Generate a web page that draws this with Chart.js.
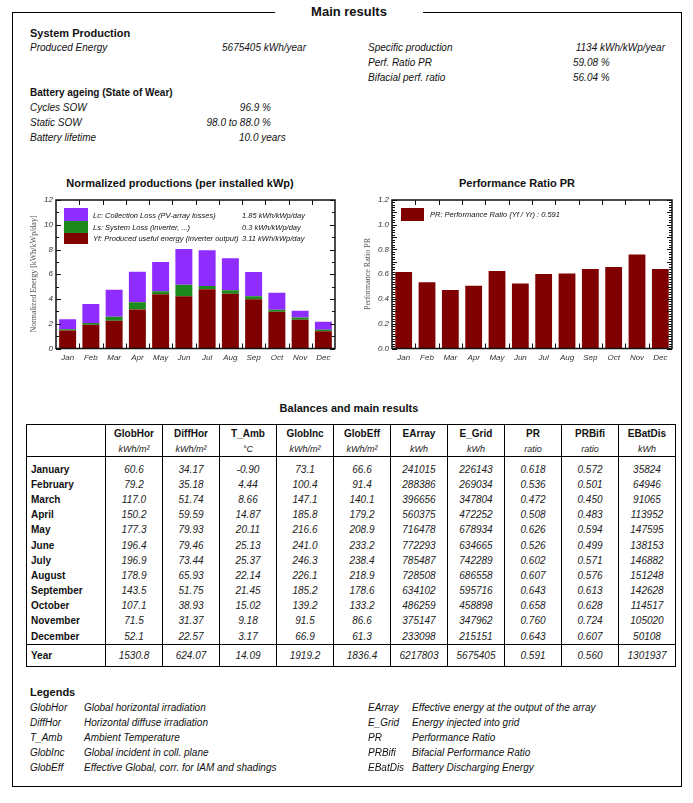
<!DOCTYPE html>
<html>
<head>
<meta charset="utf-8">
<script src="https://cdn.jsdelivr.net/npm/chart.js@4.4.0/dist/chart.umd.min.js"></script>
<style>
  body { margin: 0; background: #fff; font-family: "Liberation Sans", Arial, sans-serif; color: #111; }
  #page { position: relative; width: 693px; height: 803px; overflow: hidden; }
  .frame { position: absolute; left: 12px; top: 12px; width: 670px; height: 775px; border: 1px solid #000; box-sizing: border-box; }
  .t { position: absolute; white-space: nowrap; line-height: 12px; font-size: 10px; font-style: italic; }
  .b { font-style: normal; font-weight: bold; }
  .cap { font-size: 11px; }
  .small { font-size: 7.5px; line-height: 9px; }
  .ytitle { position: absolute; white-space: nowrap; font-family: "Liberation Serif", "DejaVu Serif", serif; font-size: 8px; color: #555; transform: translate(-50%, -50%) rotate(-90deg); }
  .sw { position: absolute; }
  canvas { position: absolute; }
  table { position: absolute; left: 26px; top: 424px; width: 649px; border-collapse: collapse; table-layout: fixed; border: 1px solid #000; }
  td { padding: 0; font-size: 10px; font-style: italic; text-align: center; color: #222; border-left: 1px solid #000; white-space: nowrap; line-height: 12px; }
  td.m { font-style: normal; font-weight: bold; text-align: left; padding-left: 4px; color: #111; border-left: none; }
  tr.hd td { font-style: normal; font-weight: bold; color: #111; height: 17px; vertical-align: middle; }
  tr.un td { font-size: 9px; height: 14px; border-bottom: 1px solid #000; }
  tr.sp td { height: 5px; line-height: 5px; }
  tr.dr td { height: 15.2px; }
  tr.yr td { height: 21px; border-top: 1px solid #000; }
</style>
</head>
<body>
<div id="page">
  <div class="frame"></div>
  <canvas id="prodChart" width="322" height="176" style="left:20px;top:190px"></canvas>
  <canvas id="prChart" width="330" height="176" style="left:350px;top:190px"></canvas>
</div>
<script>
// Chart data (per installed kWp, kWh/kWp/day)
const monthsShort = ["Jan", "Feb", "Mar", "Apr", "May", "Jun", "Jul", "Aug", "Sep", "Oct", "Nov", "Dec"];
const yfValues = [1.46, 1.92, 2.24, 3.15, 4.38, 4.23, 4.78, 4.43, 3.97, 2.96, 2.32, 1.39];
const lsValues = [0.10, 0.14, 0.32, 0.59, 0.24, 0.92, 0.28, 0.27, 0.26, 0.18, 0.18, 0.12];
const lcValues = [0.81, 1.53, 2.19, 2.46, 2.37, 2.89, 2.88, 2.60, 1.95, 1.36, 0.55, 0.66];
const prValues = [0.618, 0.536, 0.472, 0.508, 0.626, 0.526, 0.602, 0.607, 0.643, 0.658, 0.760, 0.643];

// Table data
const monthNames = ["January", "February", "March", "April", "May", "June", "July", "August", "September", "October", "November", "December", "Year"];
const globHor = [60.6, 79.2, 117.0, 150.2, 177.3, 196.4, 196.9, 178.9, 143.5, 107.1, 71.5, 52.1, 1530.8];
const diffHor = [34.17, 35.18, 51.74, 59.59, 79.93, 79.46, 73.44, 65.93, 51.75, 38.93, 31.37, 22.57, 624.07];
const tAmb = [-0.90, 4.44, 8.66, 14.87, 20.11, 25.13, 25.37, 22.14, 21.45, 15.02, 9.18, 3.17, 14.09];
const globInc = [73.1, 100.4, 147.1, 185.8, 216.6, 241.0, 246.3, 226.1, 185.2, 139.2, 91.5, 66.9, 1919.2];
const globEff = [66.6, 91.4, 140.1, 179.2, 208.9, 233.2, 238.4, 218.9, 178.6, 133.2, 86.6, 61.3, 1836.4];
const eArray = [241015, 288386, 396656, 560375, 716478, 772293, 785487, 728508, 634102, 486259, 375147, 233098, 6217803];
const eGrid = [226143, 269034, 347804, 472252, 678934, 634665, 742289, 686558, 595716, 458898, 347962, 215151, 5675405];
const prRatio = [0.618, 0.536, 0.472, 0.508, 0.626, 0.526, 0.602, 0.607, 0.643, 0.658, 0.760, 0.643, 0.591];
const prBifi = [0.572, 0.501, 0.450, 0.483, 0.594, 0.499, 0.571, 0.576, 0.613, 0.628, 0.724, 0.607, 0.560];
const eBatDis = [35824, 64946, 91065, 113952, 147595, 138153, 146882, 151248, 142628, 114517, 105020, 50108, 1301937];

const columns = [
  { name: "GlobHor", unit: "kWh/m²", data: globHor, dec: 1 },
  { name: "DiffHor", unit: "kWh/m²", data: diffHor, dec: 2 },
  { name: "T_Amb", unit: "°C", data: tAmb, dec: 2 },
  { name: "GlobInc", unit: "kWh/m²", data: globInc, dec: 1 },
  { name: "GlobEff", unit: "kWh/m²", data: globEff, dec: 1 },
  { name: "EArray", unit: "kWh", data: eArray, dec: 0 },
  { name: "E_Grid", unit: "kWh", data: eGrid, dec: 0 },
  { name: "PR", unit: "ratio", data: prRatio, dec: 3 },
  { name: "PRBifi", unit: "ratio", data: prBifi, dec: 3 },
  { name: "EBatDis", unit: "kWh", data: eBatDis, dec: 0 },
];

const page = document.getElementById("page");

// place a text label; y is the vertical centre
function place(text, x, y, cls, align) {
  const d = document.createElement("div");
  d.className = "t " + (cls || "");
  d.textContent = text;
  d.style.left = x + "px";
  d.style.top = y + "px";
  let tx = "0";
  if (align === "right") tx = "-100%";
  if (align === "center") tx = "-50%";
  d.style.transform = "translate(" + tx + ", -50%)";
  page.appendChild(d);
  return d;
}

function swatch(x, y, w, h, color) {
  const d = document.createElement("div");
  d.className = "sw";
  d.style.cssText = `left:${x}px;top:${y}px;width:${w}px;height:${h}px;background:${color}`;
  page.appendChild(d);
}

// Header block
const mt = place("Main results", 349, 12, "b", "center");
mt.style.fontSize = "13px";
mt.style.background = "#fff";
mt.style.padding = "0 36px";

place("System Production", 30, 33, "b cap");
place("Produced Energy", 30, 48);
place("5675405 kWh/year", 306, 48, "", "right");
place("Specific production", 368, 48);
place("1134 kWh/kWp/year", 665, 48, "", "right");
place("Perf. Ratio PR", 368, 63);
place("59.08 %", 573, 63);
place("Bifacial perf. ratio", 368, 78);
place("56.04 %", 573, 78);

place("Battery ageing (State of Wear)", 30, 93, "b");
place("Cycles SOW", 30, 108);
place("96.9 %", 271, 108, "", "right");
place("Static SOW", 30, 123);
place("98.0 to 88.0 %", 271, 123, "", "right");
place("Battery lifetime", 30, 138);
place("10.0 years", 239, 138);

// Chart titles and axis titles
place("Normalized productions (per installed kWp)", 180, 183, "b cap", "center");
place("Performance Ratio PR", 517, 183, "b cap", "center");

function yTitle(text, x, y) {
  const d = document.createElement("div");
  d.className = "ytitle";
  d.textContent = text;
  d.style.left = x + "px";
  d.style.top = y + "px";
  page.appendChild(d);
}
yTitle("Normalized Energy [kWh/kWp/day]", 33, 274);
yTitle("Performance Ratio PR", 367, 274);

// In-chart legends
const purple = "#8f2cff", green = "#1d8a1d", darkRed = "#800000";
swatch(64, 208, 24, 13, purple);
swatch(64, 221, 24, 11.5, green);
swatch(64, 232.5, 24, 11.5, darkRed);
place("Lc: Collection Loss (PV-array losses)", 93, 215, "small");
place("Ls: System Loss  (inverter, ...)", 93, 226.7, "small");
place("Yf: Produced useful energy  (inverter output)", 93, 238.3, "small");
place("1.85 kWh/kWp/day", 242, 215, "small");
place("0.3 kWh/kWp/day", 242, 226.7, "small");
place("3.11 kWh/kWp/day", 242, 238.3, "small");

swatch(401, 208, 23, 12.5, darkRed);
place("PR: Performance Ratio (Yf / Yr) :  0.591", 430, 214.3, "small");

// Frame with inward ticks, like the original report
const frameTicks = {
  id: "frameTicks",
  afterDatasetsDraw(chart, args, opts) {
    const { ctx, chartArea: a, scales: { x, y } } = chart;
    ctx.save();
    ctx.strokeStyle = "#111";
    ctx.lineWidth = 1;
    ctx.beginPath();
    const n = Math.round((y.max - y.min) / opts.minorStep);
    for (let k = 0; k <= n; k++) {
      const v = y.min + k * opts.minorStep;
      const py = Math.round(y.getPixelForValue(v)) + 0.5;
      const major = k % opts.majorEvery === 0;
      const len = major ? 5 : 3;
      ctx.moveTo(a.left, py); ctx.lineTo(a.left + len, py);
      ctx.moveTo(a.right, py); ctx.lineTo(a.right - len, py);
    }
    for (let i = 0; i < x.ticks.length - 1; i++) {
      const px = Math.round((x.getPixelForValue(i) + x.getPixelForValue(i + 1)) / 2) + 0.5;
      ctx.moveTo(px, a.bottom); ctx.lineTo(px, a.bottom - 5);
      ctx.moveTo(px, a.top); ctx.lineTo(px, a.top + 5);
    }
    ctx.stroke();
    ctx.lineWidth = 1.5;
    ctx.strokeRect(a.left, a.top, a.right - a.left, a.bottom - a.top);
    ctx.restore();
  },
};

const tickFont = { family: "'Liberation Sans', Arial, sans-serif", size: 8, style: "italic" };

function baseScales(yMin, yMax, yStep, yWidth, decimals, stacked) {
  return {
    x: {
      stacked: stacked,
      grid: { display: false, drawTicks: false },
      border: { display: false },
      ticks: { font: tickFont, color: "#333", padding: 4, maxRotation: 0, autoSkip: false },
      afterFit: (s) => { s.height = 17.5; },
    },
    y: {
      stacked: stacked,
      min: yMin,
      max: yMax,
      grid: { display: false, drawTicks: false },
      border: { display: false },
      ticks: {
        stepSize: yStep,
        font: tickFont,
        color: "#333",
        padding: 3,
        callback: (v) => Number(v).toFixed(decimals),
      },
      afterFit: (s) => { s.width = yWidth; },
    },
  };
}

new Chart(document.getElementById("prodChart"), {
  type: "bar",
  data: {
    labels: monthsShort,
    datasets: [
      { label: "Yf", data: yfValues, backgroundColor: darkRed },
      { label: "Ls", data: lsValues, backgroundColor: green },
      { label: "Lc", data: lcValues, backgroundColor: purple },
    ],
  },
  options: {
    responsive: false,
    animation: false,
    devicePixelRatio: 1,
    layout: { padding: { top: 10, right: 7, left: 0, bottom: 0 } },
    datasets: { bar: { categoryPercentage: 1, barPercentage: 0.73 } },
    plugins: {
      legend: { display: false },
      tooltip: { enabled: false },
      frameTicks: { minorStep: 1, majorEvery: 2 },
    },
    scales: baseScales(0, 12, 2, 36, 0, true),
  },
  plugins: [frameTicks],
});

new Chart(document.getElementById("prChart"), {
  type: "bar",
  data: {
    labels: monthsShort,
    datasets: [{ label: "PR", data: prValues, backgroundColor: darkRed }],
  },
  options: {
    responsive: false,
    animation: false,
    devicePixelRatio: 1,
    layout: { padding: { top: 10, right: 8, left: 0, bottom: 0 } },
    datasets: { bar: { categoryPercentage: 1, barPercentage: 0.72 } },
    plugins: {
      legend: { display: false },
      tooltip: { enabled: false },
      frameTicks: { minorStep: 0.02, majorEvery: 5 },
    },
    scales: baseScales(0, 1.2, 0.1, 42, 1, false),
  },
  plugins: [frameTicks],
});

// Balances table
place("Balances and main results", 349, 408, "b cap", "center");

const table = document.createElement("table");
const colgroup = document.createElement("colgroup");
[79].concat(columns.map(() => 57)).forEach((w) => {
  const c = document.createElement("col");
  c.style.width = w + "px";
  colgroup.appendChild(c);
});
table.appendChild(colgroup);

function addRow(cls, first, cells) {
  const tr = document.createElement("tr");
  tr.className = cls;
  const td0 = document.createElement("td");
  td0.className = "m";
  td0.textContent = first;
  tr.appendChild(td0);
  cells.forEach((txt) => {
    const td = document.createElement("td");
    td.textContent = txt;
    tr.appendChild(td);
  });
  table.appendChild(tr);
}

addRow("hd", "", columns.map((c) => c.name));
addRow("un", "", columns.map((c) => c.unit));
addRow("sp", "", columns.map(() => ""));
monthNames.forEach((m, i) => {
  addRow(i === 12 ? "yr" : "dr", m, columns.map((c) => c.data[i].toFixed(c.dec)));
});
page.appendChild(table);

// Legends
place("Legends", 30, 692, "b cap");
const legendLeft = [
  ["GlobHor", "Global horizontal irradiation"],
  ["DiffHor", "Horizontal diffuse irradiation"],
  ["T_Amb", "Ambient Temperature"],
  ["GlobInc", "Global incident in coll. plane"],
  ["GlobEff", "Effective Global, corr. for IAM and shadings"],
];
const legendRight = [
  ["EArray", "Effective energy at the output of the array"],
  ["E_Grid", "Energy injected into grid"],
  ["PR", "Performance Ratio"],
  ["PRBifi", "Bifacial Performance Ratio"],
  ["EBatDis", "Battery Discharging Energy"],
];
legendLeft.forEach(([k, d], i) => {
  place(k, 30, 707.7 + i * 15.1);
  place(d, 84, 707.7 + i * 15.1);
});
legendRight.forEach(([k, d], i) => {
  place(k, 368, 707.7 + i * 15.1);
  place(d, 412, 707.7 + i * 15.1);
});
</script>
</body>
</html>
